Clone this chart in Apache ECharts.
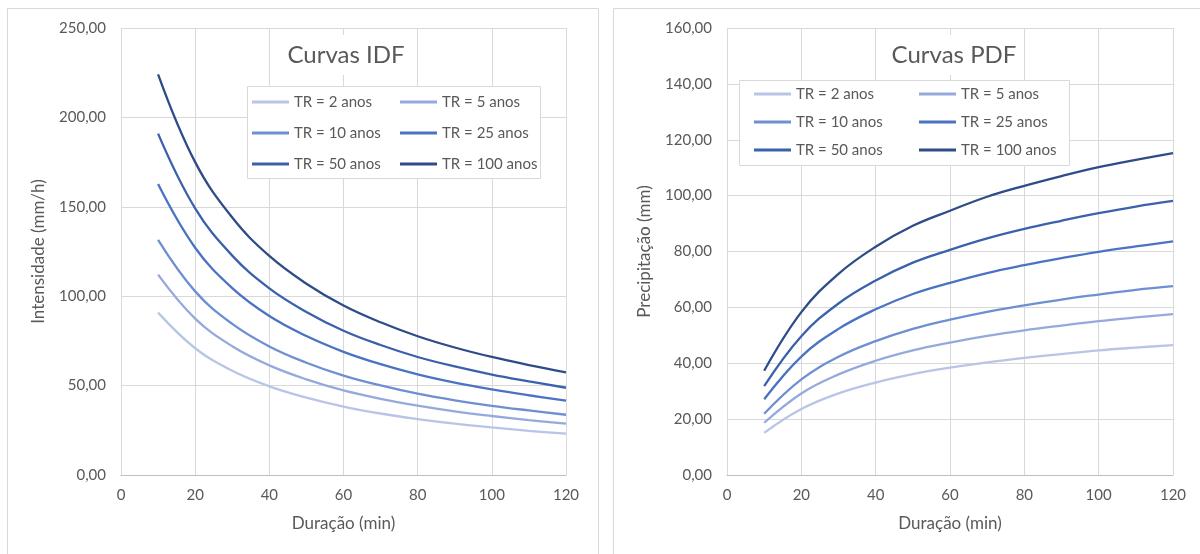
<!DOCTYPE html>
<html>
<head>
<meta charset="utf-8">
<script src="https://cdn.jsdelivr.net/npm/echarts@6/dist/echarts.min.js"></script>
<style>
  html, body { margin: 0; padding: 0; background: #fff; }
  #chart { width: 1200px; height: 554px; }
</style>
</head>
<body>
<div id="chart"></div>
<script>
// Durações (min)
const durations = [10, 20, 30, 40, 50, 60, 70, 80, 90, 100, 110, 120];

// Períodos de retorno
const seriesNames = ['TR = 2 anos', 'TR = 5 anos', 'TR = 10 anos', 'TR = 25 anos', 'TR = 50 anos', 'TR = 100 anos'];

// Intensidade (mm/h) por período de retorno
const idfTR2   = [90.8, 70.9, 58.3, 49.6, 43.3, 38.3, 34.4, 31.3, 28.7, 26.6, 24.7, 23.1];
const idfTR5   = [112.1, 87.5, 72.0, 61.3, 53.5, 47.3, 42.6, 38.8, 35.6, 33.0, 30.7, 28.7];
const idfTR10  = [131.5, 102.7, 84.5, 71.9, 62.8, 55.6, 50.1, 45.5, 41.8, 38.7, 36.1, 33.7];
const idfTR25  = [162.7, 127.1, 104.5, 88.9, 77.7, 68.9, 62.0, 56.3, 51.7, 47.9, 44.6, 41.6];
const idfTR50  = [190.9, 149.1, 122.7, 104.4, 91.2, 80.7, 72.7, 66.0, 60.7, 56.2, 52.4, 48.8];
const idfTR100 = [224.1, 175.0, 144.0, 122.5, 107.0, 94.8, 85.4, 77.6, 71.3, 66.0, 61.5, 57.4];

// Precipitação (mm) por período de retorno
const pdfTR2   = [15.1, 23.6, 29.2, 33.1, 36.1, 38.4, 40.3, 41.9, 43.3, 44.6, 45.6, 46.5];
const pdfTR5   = [18.7, 29.2, 36.0, 40.9, 44.6, 47.4, 49.8, 51.8, 53.5, 55.1, 56.4, 57.6];
const pdfTR10  = [21.9, 34.2, 42.3, 47.9, 52.3, 55.6, 58.4, 60.7, 62.8, 64.6, 66.3, 67.6];
const pdfTR25  = [27.1, 42.4, 52.3, 59.3, 64.8, 68.8, 72.3, 75.1, 77.6, 79.9, 81.8, 83.6];
const pdfTR50  = [31.8, 49.7, 61.4, 69.6, 76.0, 80.6, 84.7, 88.1, 91.0, 93.7, 96.1, 98.1];
const pdfTR100 = [37.3, 58.3, 72.0, 81.7, 89.2, 94.6, 99.6, 103.5, 107.0, 110.2, 112.8, 115.2];

const idfValues = [idfTR2, idfTR5, idfTR10, idfTR25, idfTR50, idfTR100];
const pdfValues = [pdfTR2, pdfTR5, pdfTR10, pdfTR25, pdfTR50, pdfTR100];

// Eixos
const xTicks = { min: 0, max: 120, interval: 20 };
const idfTicks = { min: 0, max: 250, interval: 50 };
const pdfTicks = { min: 0, max: 160, interval: 20 };

const colors = ['#b9c5e7', '#96a9dc', '#6e8fd2', '#4a73c4', '#3b61ad', '#2e4c88'];

const FONT = 'Lato, "Open Sans", sans-serif';
const TXT = '#595959';
const GRID = '#d9d9d9';

const fmtDec = v => v.toFixed(2).replace('.', ',');

function xAxisDef(gridIndex) {
  return {
    type: 'value', gridIndex,
    min: xTicks.min, max: xTicks.max, interval: xTicks.interval,
    name: 'Duração (min)', nameLocation: 'middle', nameGap: 40,
    nameTextStyle: { color: TXT, fontSize: 17, fontFamily: FONT },
    axisLine: { show: true, lineStyle: { color: '#bfbfbf', width: 1 } },
    axisTick: { show: false },
    axisLabel: { color: TXT, fontSize: 15, fontFamily: FONT, margin: 13 },
    splitLine: { show: true, lineStyle: { color: GRID, width: 1 } }
  };
}

function yAxisDef(gridIndex, ticks, name) {
  return {
    type: 'value', gridIndex,
    min: ticks.min, max: ticks.max, interval: ticks.interval,
    name, nameLocation: 'middle', nameGap: 74,
    nameTextStyle: { color: TXT, fontSize: 17, fontFamily: FONT },
    axisLine: { show: false },
    axisTick: { show: false },
    axisLabel: { color: TXT, fontSize: 15, fontFamily: FONT, margin: 15, formatter: fmtDec },
    splitLine: { show: true, lineStyle: { color: GRID, width: 1 } }
  };
}

function lineSeries(gridIndex, values) {
  return values.map((vals, k) => ({
    name: seriesNames[k],
    type: 'line',
    xAxisIndex: gridIndex, yAxisIndex: gridIndex,
    data: durations.map((t, i) => [t, vals[i]]),
    smooth: 0.4,
    symbol: 'none',
    lineStyle: { color: colors[k], width: 2.3 },
    itemStyle: { color: colors[k] },
    z: 2
  }));
}

// Legend rows: two entries per row, fixed text width so columns line up
function legendRows(iconLeft, rowCenters, textWidth, gap) {
  const rows = [];
  for (let r = 0; r < 3; r++) {
    rows.push({
      data: [seriesNames[2 * r], seriesNames[2 * r + 1]],
      orient: 'horizontal',
      left: iconLeft, top: rowCenters[r] - 10,
      padding: 0, itemGap: gap,
      icon: 'rect',
      itemWidth: 37, itemHeight: 3,
      selectedMode: false,
      textStyle: { color: TXT, fontSize: 15, fontFamily: FONT, width: textWidth, lineHeight: 20 },
      z: 6
    });
  }
  return rows;
}

const chart = echarts.init(document.getElementById('chart'), null, { renderer: 'canvas' });

chart.setOption({
  animation: false,
  backgroundColor: '#fff',
  grid: [
    { left: 121, top: 28, width: 445, height: 447 },
    { left: 727, top: 28, width: 446, height: 447 }
  ],
  xAxis: [xAxisDef(0), xAxisDef(1)],
  yAxis: [
    yAxisDef(0, idfTicks, 'Intensidade (mm/h)'),
    yAxisDef(1, pdfTicks, 'Precipitação (mm)')
  ],
  legend: [
    ...legendRows(252, [102, 133, 164], 96, 10),
    ...legendRows(754, [94, 122, 150], 113, 10)
  ],
  graphic: [
    // chart cards
    { type: 'rect', z: -10, silent: true,
      shape: { x: 7.5, y: 8.5, width: 591, height: 570 },
      style: { fill: '#fff', stroke: GRID, lineWidth: 1 } },
    { type: 'rect', z: -10, silent: true,
      shape: { x: 613.5, y: 8.5, width: 600, height: 570 },
      style: { fill: '#fff', stroke: GRID, lineWidth: 1 } },
    // legend boxes
    { type: 'rect', z: 5, silent: true,
      shape: { x: 247.5, y: 86.5, width: 293, height: 92 },
      style: { fill: '#fff', stroke: GRID, lineWidth: 1 } },
    { type: 'rect', z: 5, silent: true,
      shape: { x: 739.5, y: 80.5, width: 330, height: 85 },
      style: { fill: '#fff', stroke: GRID, lineWidth: 1 } },
    // titles
    { type: 'text', z: 5, silent: true, x: 346, y: 55,
      style: { text: 'Curvas IDF', fill: TXT, font: '24px ' + FONT,
               align: 'center', verticalAlign: 'middle',
               backgroundColor: '#fff', padding: [8, 6] } },
    { type: 'text', z: 5, silent: true, x: 954, y: 55,
      style: { text: 'Curvas PDF', fill: TXT, font: '24px ' + FONT,
               align: 'center', verticalAlign: 'middle',
               backgroundColor: '#fff', padding: [8, 6] } }
  ],
  series: [...lineSeries(0, idfValues), ...lineSeries(1, pdfValues)]
});
</script>
</body>
</html>
